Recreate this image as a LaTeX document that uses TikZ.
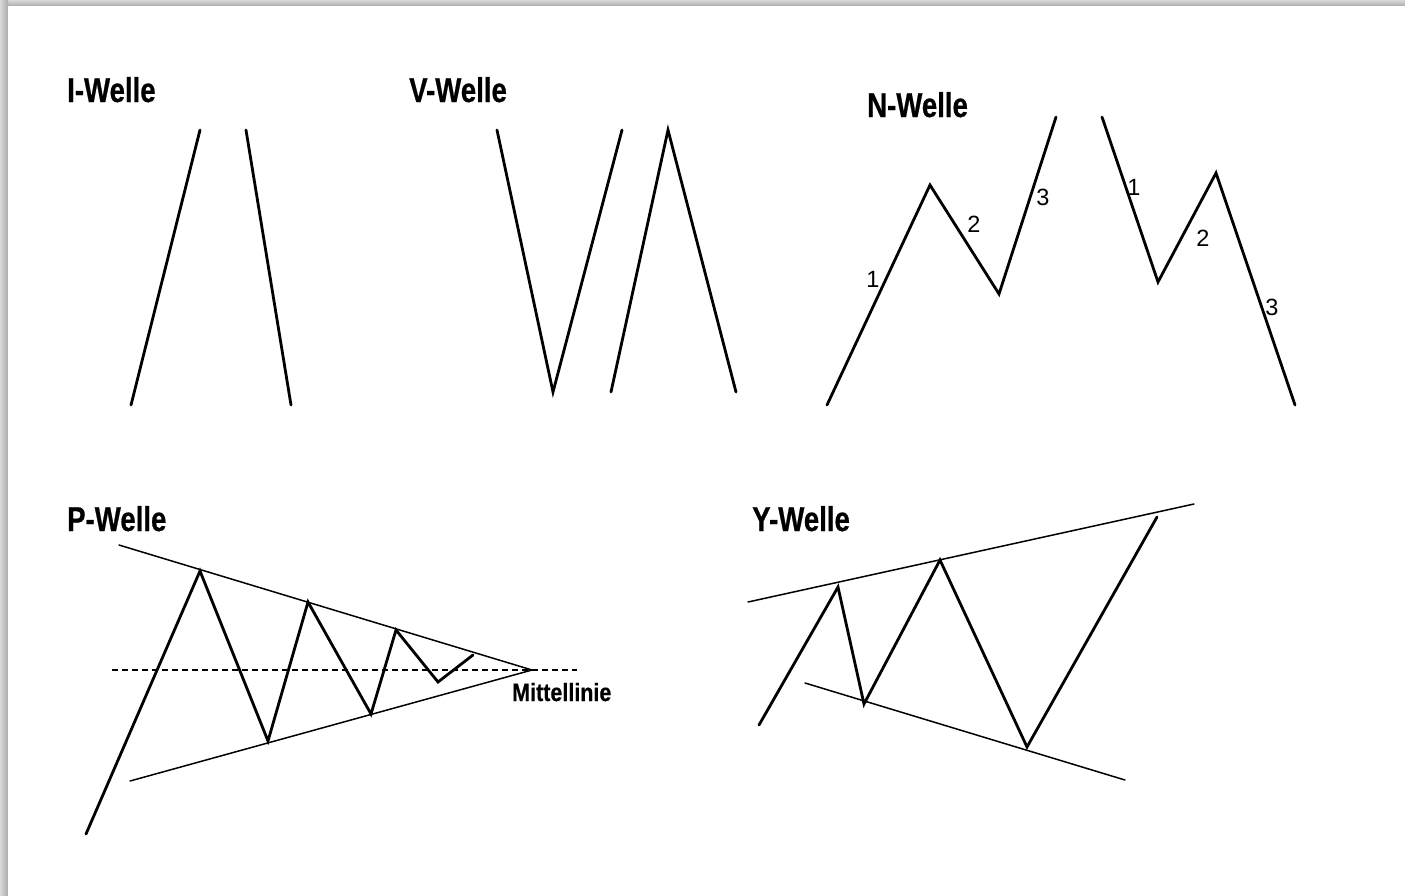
\documentclass[tikz,border=0pt]{standalone}
\usepackage{fontspec}
\setmainfont{Liberation Sans}
\newfontfamily\wellefont[FakeStretch=0.8, FakeBold=0.6]{Liberation Sans}
\newfontfamily\mittefont[FakeStretch=0.86, FakeBold=0.5]{Liberation Sans}
\tikzset{
  wave/.style     = {line width=2.8pt, line cap=round, line join=miter},
  trend/.style    = {line width=1.5pt, line cap=round},
  midline/.style  = {line width=1.1pt, dash pattern=on 6pt off 4pt},
  title/.style    = {anchor=base west, inner sep=0pt,
                     font=\wellefont\bfseries\fontsize{34.5}{40}\selectfont},
  num/.style      = {inner sep=0pt, font=\fontsize{23.5}{26}\selectfont},
  note/.style     = {anchor=base west, inner sep=0pt,
                     font=\mittefont\bfseries\fontsize{25}{30}\selectfont},
}

\begin{document}
\begin{tikzpicture}[x=1pt, y=-1pt]

% sheet with shadow
\useasboundingbox (0,0) rectangle (1405,895);
\shade[top color=gray!30, bottom color=gray!65] (0,0) rectangle (1405,6);
\shade[left color=gray!30, right color=gray!65] (0,0) rectangle (8,895);
\fill[white] (8,6) rectangle (1405,895);

% I-Welle
\node[title] (iw) at (67,102) {I-Welle};
\draw[wave] (131,405) -- (200,130);
\draw[wave] (246,130) -- (291,405);

% V-Welle
\node[title] (vw) at (409,102) {V-Welle};
\draw[wave] (497,130) -- (553,392) -- (622,130);
\draw[wave] (611,392) -- (668,130) -- (736,392);

% N-Welle
\node[title] (nw) at (867,117) {N-Welle};
\draw[wave] (827,405) -- (930,185) -- (999,294) -- (1056,117);
\draw[wave] (1102,117) -- (1158,282) -- (1216,173) -- (1295,405);
\node[num] (n1) at (873,279) {1};
\node[num] (n2) at (974,224) {2};
\node[num] (n3) at (1043,197) {3};
\node[num] (m1) at (1134,187) {1};
\node[num] (m2) at (1203,238) {2};
\node[num] (m3) at (1272,307) {3};

% P-Welle
\node[title] (pw) at (67,531) {P-Welle};
\coordinate (apex) at (532,670);
\draw[trend] (119,545) -- (apex);
\draw[trend] (130,781) -- (apex);
\draw[midline] (112,670) -- (577,670);
\draw[wave] (86,834) -- (200,571) -- (268,741) -- (308,602) -- (371,714)
  -- (396,630) -- (438,682) -- (473,655);
\node[note] (mitte) at (512,701) {Mittellinie};

% Y-Welle
\node[title] (yw) at (752,531) {Y-Welle};
\draw[trend] (748,602) -- (1194,504);
\draw[trend] (805,683) -- (1125,780);
\draw[wave] (759,725) -- (838,587) -- (864,704) -- (940,560) -- (1027,747)
  -- (1157,517);

\end{tikzpicture}
\end{document}
